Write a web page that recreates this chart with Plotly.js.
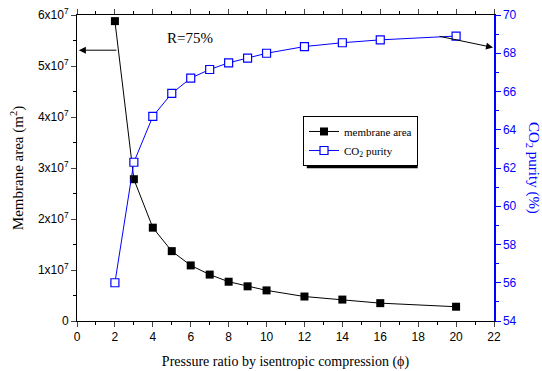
<!DOCTYPE html>
<html><head><meta charset="utf-8">
<script src="https://cdn.plot.ly/plotly-3.0.1.min.js"></script>
<style>body{margin:0;background:#fff}#c{width:542px;height:371px}</style>
</head><body><div id="c"></div>
<script>
const ratio = [2, 3, 4, 5, 6, 7, 8, 9, 10, 12, 14, 16, 20];
const membraneArea = [5.88e7, 2.78e7, 1.83e7, 1.37e7, 1.09e7, 0.91e7, 0.77e7, 0.68e7, 0.60e7, 0.48e7, 0.42e7, 0.35e7, 0.28e7];
const co2Purity = [56.0, 62.3, 64.7, 65.9, 66.7, 67.15, 67.5, 67.75, 68.0, 68.35, 68.55, 68.7, 68.9];
const leftTickVals = [0, 1e7, 2e7, 3e7, 4e7, 5e7, 6e7];
const leftTickText = ['0', '1x10<sup>7</sup>', '2x10<sup>7</sup>', '3x10<sup>7</sup>', '4x10<sup>7</sup>', '5x10<sup>7</sup>', '6x10<sup>7</sup>'];

const serif = 'Liberation Serif';
const sans = 'Liberation Sans';
const blue = '#0000ff';

const traces = [
  {x: ratio, y: membraneArea, name: 'membrane area', mode: 'lines+markers',
   line: {color: 'black', width: 1}, marker: {symbol: 'square', size: 8, color: 'black'}},
  {x: ratio, y: co2Purity, name: 'CO<sub>2</sub> purity', yaxis: 'y2', mode: 'lines+markers',
   line: {color: blue, width: 1}, marker: {symbol: 'square', size: 8, color: 'white', line: {color: blue, width: 1.2}}}
];

const layout = {
  width: 542, height: 371,
  margin: {l: 77, r: 48, t: 15, b: 50},
  paper_bgcolor: 'white', plot_bgcolor: 'white',
  showlegend: true,
  legend: {x: 0.542, y: 0.670, xanchor: 'left', yanchor: 'top', bgcolor: 'white', bordercolor: 'black', borderwidth: 1,
    font: {family: serif, size: 11, color: 'black'}, tracegroupgap: 0, itemwidth: 30},
  xaxis: {range: [0, 22], tickvals: [0,2,4,6,8,10,12,14,16,18,20,22], ticks: 'outside', ticklen: 5, tickwidth: 1,
    showline: true, linecolor: 'black', linewidth: 1, mirror: 'ticks', showgrid: false, zeroline: false,
    minor: {dtick: 1, ticks: 'outside', ticklen: 3, tickcolor: 'black', showgrid: false},
    tickfont: {family: sans, size: 12, color: 'black'},
    title: {text: 'Pressure ratio by isentropic compression (\u03d5)', font: {family: serif, size: 14, color: 'black'}, standoff: 12}},
  yaxis: {range: [0, 6e7], tickvals: leftTickVals, ticktext: leftTickText, ticks: 'outside', ticklen: 5,
    showline: true, linecolor: 'black', linewidth: 1, showgrid: false, zeroline: false,
    minor: {dtick: 5e6, ticks: 'outside', ticklen: 3, tickcolor: 'black', showgrid: false},
    tickfont: {family: sans, size: 12, color: 'black'},
    title: {text: 'Membrane area (m<sup>2</sup>)', font: {family: serif, size: 15, color: 'black'}, standoff: 10}},
  yaxis2: {range: [54, 70], overlaying: 'y', side: 'right', tickvals: [54,56,58,60,62,64,66,68,70], ticks: 'outside', ticklen: 5,
    tickcolor: blue, showline: true, linecolor: blue, linewidth: 1.5, showgrid: false, zeroline: false,
    minor: {dtick: 1, ticks: 'outside', ticklen: 3, tickcolor: blue, showgrid: false},
    tickfont: {family: sans, size: 12, color: blue}},
  shapes: [
    {type: 'rect', xref: 'paper', yref: 'paper', x0: 0.551, x1: 0.817, y0: 0.499, y1: 0.660,
     fillcolor: 'black', line: {width: 0}, layer: 'below'}
  ],
  annotations: [
    {x: 1.12, y: 0.5, xref: 'paper', yref: 'paper', text: 'CO<sub>2</sub> purity (%)', textangle: 90, showarrow: false,
     font: {family: serif, size: 15, color: blue}},
    {x: 5.96, y: 5.55e7, xref: 'x', yref: 'y', text: 'R=75%', showarrow: false, font: {family: serif, size: 15, color: 'black'}},
    {x: 0.1, y: 5.31e7, xref: 'x', yref: 'y', ax: 2.16, ay: 5.31e7, axref: 'x', ayref: 'y', text: '',
     showarrow: true, arrowhead: 2, arrowsize: 1.4, arrowwidth: 1, arrowcolor: 'black'},
    {x: 21.95, y: 68.3, xref: 'x', yref: 'y2', ax: 19.05, ay: 68.9, axref: 'x', ayref: 'y2', text: '',
     showarrow: true, arrowhead: 2, arrowsize: 1.4, arrowwidth: 1, arrowcolor: 'black'}
  ]
};
Plotly.newPlot('c', traces, layout, {displayModeBar: false, staticPlot: true});
</script></body></html>
